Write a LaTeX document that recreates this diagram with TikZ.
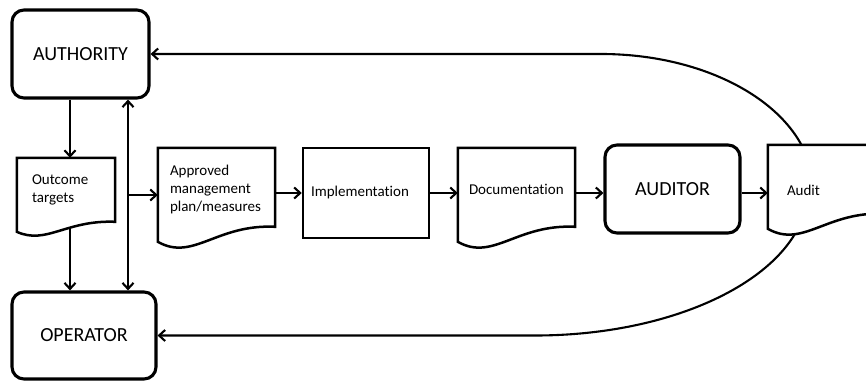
\documentclass[tikz,border=0pt]{standalone}
\usepackage{fontspec}
\setmainfont{Carlito}[Ligatures=NoCommon]
\usetikzlibrary{arrows.meta,calc,backgrounds}

\tikzset{
  actor/.style={draw, fill=white, line width=3.1pt, rounded corners=12pt,
    font=\fontsize{20}{24}\selectfont},
  step box/.style={draw, fill=white, line width=2.5pt, align=left,
    font=\fontsize{15}{18}\selectfont},
  paper/.style={align=left, inner ysep=0pt, font=\fontsize{15}{18}\selectfont},
  paperline/.style={draw, fill=white, line width=2.5pt},
  link/.style={line width=2.1pt}
}

\begin{document}
\begin{tikzpicture}[x=1pt, y=1pt, >={Straight Barb[length=6pt,width=11pt]}]

    \useasboundingbox (0,0) rectangle (866,383);

    % Actors
    \node[actor, minimum width=137, minimum height=88] (auth) at (80.5,329) {AUTHORITY};
    \node[actor, minimum width=144, minimum height=87] (oper) at (84,47.5) {OPERATOR};
    \node[actor, minimum width=135, minimum height=88] (auditor) at (672.5,194) {AUDITOR};

    % Documents (outline drawn below)
    \node[paper, minimum width=98, minimum height=64, inner xsep=15, text width=68] (targets) at (66,193) {Outcome\\targets};
    \node[paper, minimum width=117, minimum height=84, inner xsep=12, text width=93] (plan) at (216.5,193) {Approved\\management\\plan/measures};
    \node[paper, minimum width=117, minimum height=82, inner xsep=11, text width=95] (docu) at (516.5,194) {Documentation};
    \node[paper, minimum width=117, minimum height=90, inner xsep=19, text width=79] (audit) at (826.5,193) {Audit};

    % Process step
    \node[step box, minimum width=126, minimum height=90, inner xsep=8, text width=110] (impl) at (366,190) {Implementation};

    \coordinate (row) at (0,190);
    \coordinate (bus) at (128,188);
    \coordinate (topbend) at (601,329);
    \coordinate (lowbend) at (535,47.5);

    \begin{scope}[on background layer]
    % Feedback loops behind the audit sheet
    \draw[<-,link] (auth.east) -- (topbend) arc[start angle=90, end angle=0, x radius=212, y radius=135];
    \draw[<-,link] (oper.east) -- (lowbend) arc[start angle=270, end angle=360, x radius=273, y radius=146.5];

    % Sheet outlines: right edge length / left edge length
    \foreach \n/\r/\l in {targets/64/74, plan/79/94, docu/79/94, audit/69/84}{
      \pgfmathsetmacro\up{-\l+1.2*(\l-\r)}
      \pgfmathsetmacro\dn{-\l-1.33*(\l-\r)}
      \draw[paperline] (\n.north west) -- (\n.north east) -- ++(0,-\r)
        .. controls ($(\n.north west)!0.5!(\n.north east)+(0,\up)$)
               and ($(\n.north west)!0.3!(\n.north east)+(0,\dn)$)
        .. ($(\n.north west)+(0,-\l)$) -- cycle;
    }
    \end{scope}

    % Arrows
    \draw[->,link] ([xshift=4pt]targets.north |- auth.south) -- ([xshift=4pt]targets.north);
    \draw[->,link] ([xshift=4pt,yshift=-6pt]targets.south) -- ([xshift=4pt]targets.south |- oper.north);
    \draw[<->,link] (bus |- auth.south) -- (bus |- oper.north);
    \draw[->,link] (bus) -- (bus -| plan.west);
    \draw[->,link] (plan.east |- row) -- (impl.west |- row);
    \draw[->,link] (impl.east |- row) -- (docu.west |- row);
    \draw[->,link] (docu.east |- row) -- (auditor.west |- row);
    \draw[->,link] (auditor.east |- row) -- (audit.west |- row);

\end{tikzpicture}
\end{document}
